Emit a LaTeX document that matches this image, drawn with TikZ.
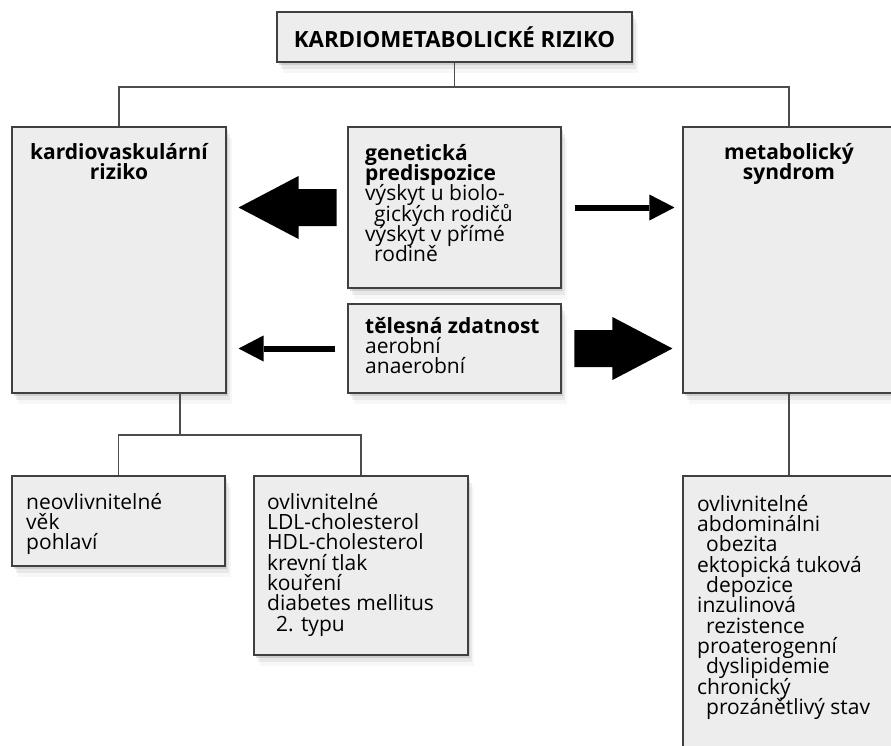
\documentclass[tikz,border=0pt]{standalone}
\usepackage{fontspec}
\setmainfont{Open Sans}
\usetikzlibrary{arrows.meta,shadows}

\newcommand\bodyfont{\fontsize{21}{20.3}\selectfont\lineskiplimit=-40pt\relax}
\newcommand\headfont{\bodyfont\bfseries}
\newcommand\titlefont{\fontsize{22.3}{24}\selectfont\bfseries}
\newcommand\ind{\hspace*{9pt}}

\tikzset{
  box/.style={draw=black!75, line width=1.1pt, fill=black!7, inner sep=0pt,
    drop shadow={shadow xshift=2pt, shadow yshift=-3pt, opacity=.25},
    drop shadow={shadow xshift=4pt, shadow yshift=-7pt, opacity=.12},
    drop shadow={shadow xshift=6pt, shadow yshift=-11pt, opacity=.06}},
  txt/.style={anchor=north west, align=left, inner sep=0pt, font=\bodyfont},
  head/.style={anchor=north, align=center, inner sep=0pt, font=\headfont},
  conn/.style={draw=black!70, line width=1.1pt},
  fatarrow/.style={fill=black},
  thinarrow/.style={line width=6pt, -{Triangle[length=25pt, width=26pt, line width=0pt]},
    shorten <=12pt, shorten >=12pt}
}

\begin{document}
\begin{tikzpicture}[x=1pt, y=-1pt]
\useasboundingbox (0,0) rectangle (891,745);
\clip (0,0) rectangle (891,745);
\fill [white] (0,0) rectangle (891,745);

\coordinate (topbar) at (454.5,87);
\coordinate (kvfoot) at (180,393);
\coordinate (kvbar) at (180,435);

\node [box, minimum width=355pt, minimum height=50pt, font=\titlefont] (title) at (454.5,37) {KARDIOMETABOLICKÉ RIZIKO};

\node [box, minimum width=214pt, minimum height=266pt] (kv) at (119,260) {};
\node [box, minimum width=213pt, minimum height=161pt] (gen) at (454.5,207.5) {};
\node [box, minimum width=213pt, minimum height=89pt] (tel) at (454.5,348.5) {};
\node [box, minimum width=212pt, minimum height=266pt] (ms) at (789,260) {};

\node [box, minimum width=213pt, minimum height=90pt] (neo) at (118.5,521) {};
\node [box, minimum width=214pt, minimum height=179pt] (ovl) at (361,565.5) {};
\node [box, minimum width=212pt, minimum height=294pt] (msrisk) at (789,623) {};

\draw [conn] (title.south) -- (topbar);
\draw [conn] (kv.north) |- (topbar) -| (ms.north);
\draw [conn] (kvfoot) -- (kvbar);
\draw [conn] (neo.north) |- (kvbar) -| (ovl.north);
\draw [conn] (ms.south) -- (msrisk.north);

\fill [fatarrow] ([xshift=12pt]kv.east |- gen.west) -- ++(60,-31.5) -- ++(0,13) -- ++(38,0)
  -- ++(0,37) -- ++(-38,0) -- ++(0,13) -- cycle;
\draw [thinarrow, shorten >=8pt, shorten <=13pt] (gen.east) -- (ms.west |- gen.east);
\draw [thinarrow] (tel.west) -- (kv.east |- tel.west);
\fill [fatarrow] ([xshift=-10pt]ms.west |- tel.east) -- ++(-60,-31.5) -- ++(0,13) -- ++(-38,0)
  -- ++(0,37) -- ++(38,0) -- ++(0,13) -- cycle;

\node [head] (kvhead) at (119,143) {kardiovaskulární\\riziko};
\node [head] (mshead) at (789,143) {metabolický\\syndrom};

\node [txt] (gentext) at (365,144) {\textbf{genetická}\\ \textbf{predispozice}\\ výskyt u biolo-\\ \ind gických rodičů\\ výskyt v přímé\\ \ind rodině};
\node [txt] (teltext) at (365,317) {\textbf{tělesná zdatnost}\\ aerobní\\ anaerobní};

\node [txt] (neotext) at (26,493) {neovlivnitelné\\ věk\\ pohlaví};
\node [txt] (ovltext) at (267,493) {ovlivnitelné\\ LDL-cholesterol\\ HDL-cholesterol\\ krevní tlak\\ kouření\\ diabetes mellitus\\ \ind 2. typu};
\node [txt] (mstext) at (697,495) {ovlivnitelné\\ abdominálni\\ \ind obezita\\ ektopická tuková\\ \ind depozice\\ inzulinová\\ \ind rezistence\\ proaterogenní\\ \ind dyslipidemie\\ chronický\\ \ind prozánětlivý stav};

\end{tikzpicture}
\end{document}
